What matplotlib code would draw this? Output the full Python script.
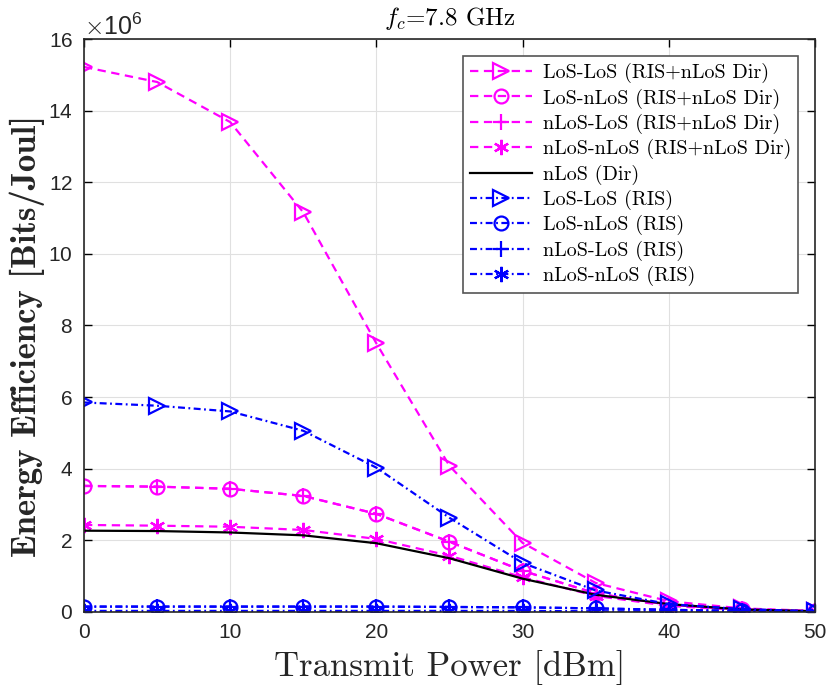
import matplotlib
matplotlib.use("Agg")
from matplotlib import pyplot as plt
from matplotlib.ticker import ScalarFormatter
import numpy as np

plt.rcParams['mathtext.fontset'] = 'cm'
plt.rcParams['lines.scale_dashes'] = False

power_dbm = [0, 5, 10, 15, 20, 25, 30, 35, 40, 45, 50]

# energy efficiency in units of 1e6 bits/joule
los_los_ris_dir = [15.22, 14.8, 13.68, 11.16, 7.5, 4.08, 1.93, 0.81, 0.3, 0.1, 0.03]
los_nlos_ris_dir = [3.52, 3.5, 3.44, 3.24, 2.74, 1.96, 1.15, 0.52, 0.2, 0.07, 0.02]
nlos_los_ris_dir = [3.52, 3.5, 3.44, 3.24, 2.74, 1.96, 1.15, 0.52, 0.2, 0.07, 0.02]
nlos_nlos_ris_dir = [2.43, 2.41, 2.38, 2.29, 2.04, 1.57, 0.97, 0.45, 0.17, 0.05, 0.02]
nlos_dir = [2.27, 2.26, 2.22, 2.14, 1.92, 1.5, 0.93, 0.48, 0.22, 0.07, 0.02]
los_los_ris = [5.85, 5.76, 5.6, 5.06, 4.03, 2.63, 1.37, 0.6, 0.22, 0.08, 0.02]
los_nlos_ris = [0.15, 0.15, 0.15, 0.15, 0.15, 0.14, 0.13, 0.1, 0.06, 0.03, 0.01]
nlos_los_ris = [0.15, 0.15, 0.15, 0.15, 0.15, 0.14, 0.13, 0.1, 0.06, 0.03, 0.01]
nlos_nlos_ris = [0.03, 0.03, 0.03, 0.03, 0.03, 0.03, 0.03, 0.02, 0.02, 0.01, 0.01]

scale = 1e6
serif = 'cmr10'
sans = 'Liberation Sans'

fig = plt.figure(figsize=(8.3, 6.88), dpi=100)
ax = fig.add_axes([0.1012, 0.1105, 0.8807, 0.8328])

mag = '#ff00ff'
blu = '#0000ff'
asterisk = (6, 2, 0)
dash = (0, (6, 4))
dashdot = (0, (5, 2.5, 1.3, 2.5))
kw = dict(linewidth=1.6, markerfacecolor='none', markeredgewidth=1.6)

def curve(y, ls, color, marker, label, ms):
    ax.plot(power_dbm, np.array(y) * scale, linestyle=ls, color=color, marker=marker,
            markersize=ms, label=label, **kw)

curve(los_los_ris_dir, dash, mag, '>', 'LoS-LoS (RIS+nLoS Dir)', 11)
curve(los_nlos_ris_dir, dash, mag, 'o', 'LoS-nLoS (RIS+nLoS Dir)', 10)
curve(nlos_los_ris_dir, dash, mag, '+', 'nLoS-LoS (RIS+nLoS Dir)', 12)
curve(nlos_nlos_ris_dir, dash, mag, asterisk, 'nLoS-nLoS (RIS+nLoS Dir)', 11)
ax.plot(power_dbm, np.array(nlos_dir) * scale, '-', color='black', linewidth=1.6, label='nLoS (Dir)')
curve(los_los_ris, dashdot, blu, '>', 'LoS-LoS (RIS)', 11)
curve(los_nlos_ris, dashdot, blu, 'o', 'LoS-nLoS (RIS)', 10)
curve(nlos_los_ris, dashdot, blu, '+', 'nLoS-LoS (RIS)', 12)
curve(nlos_nlos_ris, dashdot, blu, asterisk, 'nLoS-nLoS (RIS)', 11)

ax.set_xlim(0, 50)
ax.set_ylim(0, 16e6)
ax.set_xticks(np.arange(0, 51, 10))
ax.set_yticks(np.arange(0, 16.1e6, 2e6))

fmt = ScalarFormatter(useMathText=True)
fmt.set_powerlimits((6, 6))
ax.yaxis.set_major_formatter(fmt)
ax.yaxis.get_offset_text().set_fontsize(18)
ax.yaxis.get_offset_text().set_family(sans)
ax.yaxis.get_offset_text().set_color('#262626')

ax.tick_params(direction='in', top=True, right=True, labelsize=15, length=6, width=1,
               pad=8, labelcolor='#262626')
for lbl in ax.get_xticklabels() + ax.get_yticklabels():
    lbl.set_family(sans)
for sp in ax.spines.values():
    sp.set_linewidth(1.2)
    sp.set_color('#262626')

ax.grid(True, color='#e0e0e0', linewidth=0.8)
ax.set_axisbelow(True)

ax.set_title('$f_c$=7.8 GHz', fontsize=18, family=serif, pad=10)
ax.set_xlabel('Transmit Power [dBm]', fontsize=25, family=serif, color='#262626')
ax.xaxis.set_label_coords(0.5, -0.0977)
ax.xaxis.label.set_va('center')
ax.set_ylabel('Energy Efficiency [Bits/Joul]', fontsize=25, family='cmb10', color='#262626')
ax.yaxis.set_label_coords(-0.078, 0.482)
ax.yaxis.label.set_va('center')

leg = ax.legend(loc='upper right', bbox_to_anchor=(0.9767, 0.9703), borderaxespad=0,
                prop={'family': serif, 'size': 14.5},
                fancybox=False, edgecolor='#555555', framealpha=1, handlelength=3.1,
                handletextpad=0.5, labelspacing=0.26, borderpad=0.35)
leg.get_frame().set_linewidth(1.2)

fig.savefig('out.png', dpi=100)
